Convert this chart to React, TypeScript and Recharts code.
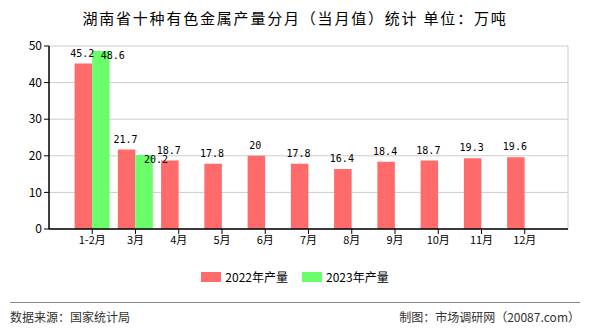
import { BarChart, Bar, XAxis, YAxis, CartesianGrid, LabelList } from "recharts";

const months = ["1-2月", "3月", "4月", "5月", "6月", "7月", "8月", "9月", "10月", "11月", "12月"];
const output2022 = [45.2, 21.7, 18.7, 17.8, 20, 17.8, 16.4, 18.4, 18.7, 19.3, 19.6];
const output2023: (number | null)[] = [48.6, 20.2, null, null, null, null, null, null, null, null, null];
const yTicks = [0, 10, 20, 30, 40, 50];

const RED = "#ff6a6a";
const GREEN = "#6aff6a";
const CJK = "'Noto Sans CJK SC', 'Noto Sans', sans-serif";

const data = months.map((m, i) => ({ month: m, y2022: output2022[i], y2023: output2023[i] }));

const TICK = { fontSize: 11, fill: "#000", fontFamily: CJK };

function gridX(props: any) {
  const { xAxis, offset } = props;
  const pts: number[] = [];
  try {
    const scale = xAxis.scale;
    const bw = scale.bandwidth ? scale.bandwidth() : 0;
    months.forEach((m) => pts.push(scale(m) + bw / 2));
  } catch (e) {
    // ignore
  }
  pts.push(offset.left + offset.width);
  return pts;
}

// labels sit above the 2022 bars; the 2023 ones are nudged so they don't collide
function makeLabel(dx: number, dy: number) {
  return function ValueLabel(props: any) {
    const { x, y, width, value } = props;
    if (value == null) return null;
    return (
      <text
        x={x + width / 2 + dx}
        y={y + dy}
        textAnchor="middle"
        fontSize={10}
        fontFamily="'DejaVu Sans Mono', monospace"
        fill="#000"
      >
        {value}
      </text>
    );
  };
}

const Label2022 = makeLabel(-1, -7);
const Label2023 = makeLabel(12, 8);

export default function App() {
  return (
    <div style={{ position: "fixed", left: 0, top: 0, width: 590, height: 330, background: "#fff", fontFamily: CJK }}>
      <div
        style={{
          position: "absolute",
          top: 7,
          width: 590,
          textAlign: "center",
          fontSize: 15,
          letterSpacing: 1.8,
          color: "#000",
        }}
      >
        湖南省十种有色金属产量分月（当月值）统计 单位：万吨
      </div>
      <div style={{ position: "absolute", left: 0, top: 0 }}>
        <BarChart
          width={590}
          height={260}
          data={data}
          margin={{ top: 46, right: 22, left: 0, bottom: 11 }}
          barGap={0}
          barSize={17.5}
        >
          <CartesianGrid stroke="#cccccc" verticalCoordinatesGenerator={gridX} />
          <XAxis
            dataKey="month"
            padding={{ left: 21.6, right: 21.6 }}
            tick={TICK}
            tickLine={{ stroke: "#000" }}
            axisLine={{ stroke: "#000", strokeWidth: 1.5 }}
            tickSize={5}
            height={20}
            interval={0}
          />
          <YAxis
            width={49}
            domain={[0, 50]}
            ticks={yTicks}
            tick={{ ...TICK, fontSize: 12 }}
            tickLine={{ stroke: "#000" }}
            axisLine={{ stroke: "#000", strokeWidth: 1.5 }}
            tickSize={5}
          />
          <Bar dataKey="y2022" fill={RED} isAnimationActive={false}>
            <LabelList dataKey="y2022" content={Label2022} />
          </Bar>
          <Bar dataKey="y2023" fill={GREEN} isAnimationActive={false}>
            <LabelList dataKey="y2023" content={Label2023} />
          </Bar>
        </BarChart>
      </div>
      <div
        style={{
          position: "absolute",
          top: 268,
          width: 590,
          display: "flex",
          justifyContent: "center",
          alignItems: "center",
          fontSize: 12,
          color: "#000",
        }}
      >
        <span style={{ display: "inline-block", width: 20, height: 10, background: RED, marginRight: 4 }} />
        <span style={{ marginRight: 14 }}>2022年产量</span>
        <span style={{ display: "inline-block", width: 20, height: 10, background: GREEN, marginRight: 4 }} />
        <span>2023年产量</span>
      </div>
      <div style={{ position: "absolute", left: 10, right: 10, top: 302, borderTop: "1px solid #888" }} />
      <div style={{ position: "absolute", left: 10, top: 308, fontSize: 12, color: "#333" }}>数据来源：国家统计局</div>
      <div style={{ position: "absolute", right: 10, top: 308, fontSize: 12, color: "#333" }}>
        制图：市场调研网（20087.com）
      </div>
    </div>
  );
}
